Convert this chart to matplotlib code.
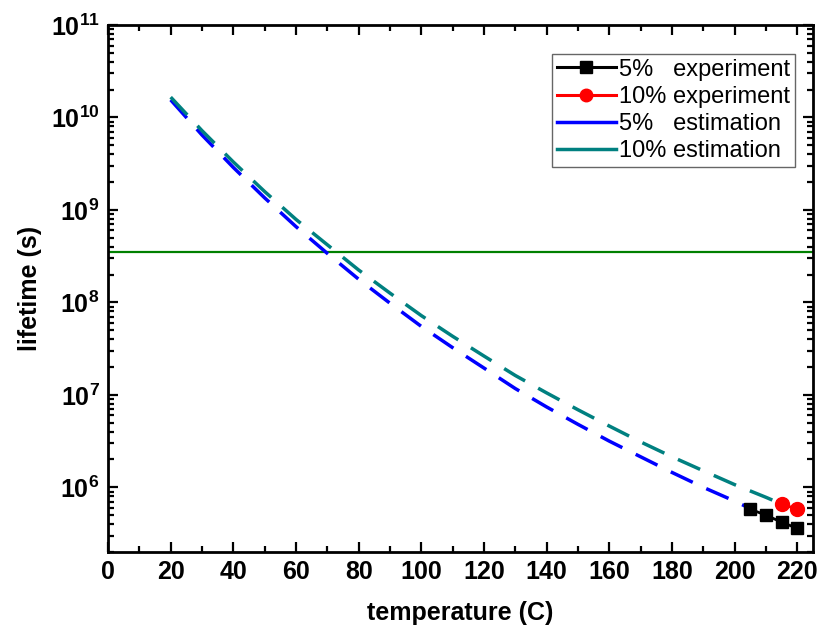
import matplotlib
matplotlib.use('Agg')
import matplotlib.pyplot as plt
import matplotlib.ticker as ticker

plt.rcParams['font.family'] = ['Liberation Sans', 'DejaVu Sans']
plt.rcParams['mathtext.fontset'] = 'custom'
plt.rcParams['mathtext.rm'] = 'Liberation Sans:bold'
plt.rcParams['mathtext.bf'] = 'Liberation Sans:bold'

# experimental points
exp5_temp = [205, 210, 215, 220]
exp5_life = [5.8e5, 5.0e5, 4.2e5, 3.6e5]
exp10_temp = [215, 220]
exp10_life = [6.6e5, 5.8e5]

# estimation curves
est5_temp = [20, 30, 40, 50, 60, 70, 80, 90, 100, 110, 120, 130, 140, 150,
             160, 170, 180, 190, 200, 205]
est5_life = [1.55e10, 6.46e9, 2.88e9, 1.35e9, 6.6e8, 3.39e8, 1.78e8, 9.8e7,
             5.5e7, 3.24e7, 1.95e7, 1.17e7, 7.4e6, 4.8e6, 3.16e6, 2.14e6,
             1.45e6, 1.0e6, 7.1e5, 5.9e5]
est10_temp = [20, 30, 40, 50, 60, 70, 80, 90, 100, 110, 120, 130, 140, 150,
              160, 170, 180, 190, 200, 210, 215]
est10_life = [1.66e10, 7.2e9, 3.3e9, 1.58e9, 7.9e8, 4.2e8, 2.24e8, 1.26e8,
              7.2e7, 4.3e7, 2.63e7, 1.62e7, 1.05e7, 6.9e6, 4.6e6, 3.1e6,
              2.14e6, 1.51e6, 1.07e6, 7.8e5, 6.6e5]

limit_life = 3.5e8

y_ticks = [1e6, 1e7, 1e8, 1e9, 1e10, 1e11]
y_labels = [r'$\mathbf{10^{6}}$', r'$\mathbf{10^{7}}$', r'$\mathbf{10^{8}}$',
            r'$\mathbf{10^{9}}$', r'$\mathbf{10^{10}}$', r'$\mathbf{10^{11}}$']

fig = plt.figure(figsize=(8.27, 6.41), dpi=100)
ax = fig.add_axes([0.1306, 0.1389, 0.8524, 0.8221])

ax.axhline(limit_life, color='#008000', lw=1.6, zorder=2)
ax.plot(est5_temp, est5_life, color='#0000FF', lw=2.5, dashes=(7.0, 4.3),
        zorder=3)
ax.plot(est10_temp, est10_life, color='#008080', lw=2.5, dashes=(7.0, 4.3),
        zorder=3)
ax.plot(exp5_temp, exp5_life, color='black', lw=2, marker='s', ms=9, zorder=4)
ax.plot(exp10_temp, exp10_life, color='#FF0000', lw=2, marker='o', ms=10,
        zorder=4)

ax.set_yscale('log')
ax.set_xlim(0, 225)
ax.set_ylim(2e5, 1e11)

ax.xaxis.set_major_locator(ticker.MultipleLocator(20))
ax.xaxis.set_minor_locator(ticker.MultipleLocator(10))
ax.yaxis.set_major_locator(ticker.FixedLocator(y_ticks))
ax.yaxis.set_major_formatter(ticker.FixedFormatter(y_labels))
ax.yaxis.set_minor_locator(ticker.LogLocator(base=10, subs=range(2, 10)))
ax.yaxis.set_minor_formatter(ticker.NullFormatter())

ax.tick_params(which='both', direction='in', top=True, right=True, width=1.6)
ax.tick_params(which='major', length=7, labelsize=18, pad=6)
ax.tick_params(which='minor', length=4)
for lab in ax.get_xticklabels():
    lab.set_fontweight('bold')
for sp in ax.spines.values():
    sp.set_linewidth(2)

ax.set_xlabel('temperature (C)', fontsize=18, fontweight='bold', labelpad=12)
ax.set_ylabel('lifetime (s)', fontsize=18, fontweight='bold', labelpad=6)

# legend handles
h1, = ax.plot([], [], color='black', lw=2.2, marker='s', ms=8)
h2, = ax.plot([], [], color='#FF0000', lw=2.2, marker='o', ms=9)
h3, = ax.plot([], [], color='#0000FF', lw=2.5)
h4, = ax.plot([], [], color='#008080', lw=2.5)
leg = ax.legend([h1, h2, h3, h4],
                ['5%   experiment', '10% experiment', '5%   estimation',
                 '10% estimation'],
                loc='upper right', bbox_to_anchor=(0.975, 0.945),
                fontsize=17, fancybox=False, edgecolor='#666666',
                framealpha=1, handlelength=2.5, handletextpad=0.15,
                labelspacing=0.22, borderpad=0.2, borderaxespad=0)
leg.get_frame().set_linewidth(1.0)

fig.savefig('out.png', dpi=100)
